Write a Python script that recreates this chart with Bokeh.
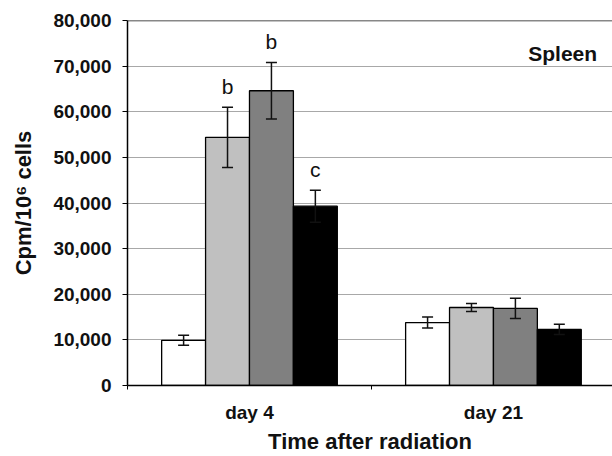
from bokeh.plotting import figure
from bokeh.models import (ColumnDataSource, Whisker, TeeHead, FixedTicker, NumeralTickFormatter,
                          Range1d, Label, Span)
from bokeh.core.properties import value
from bokeh.embed import file_html
from bokeh.resources import INLINE

# ---- data ----
groups = ["day 4", "day 21"]
group_pos = [0.5, 1.5]
series_names = ["control", "group 2", "group 3", "group 4"]
series_colors = ["#ffffff", "#c0c0c0", "#808080", "#000000"]
means_control = [9900, 13800]
err_control = [1100, 1200]
means_g2 = [54400, 17100]
err_g2 = [6600, 900]
means_g3 = [64600, 16900]
err_g3 = [6200, 2200]
means_g4 = [39300, 12300]
err_g4 = [3500, 1100]
letters_control = ["", ""]
letters_g2 = ["b", ""]
letters_g3 = ["b", ""]
letters_g4 = ["c", ""]
y_ticks = [0, 10000, 20000, 30000, 40000, 50000, 60000, 70000, 80000]

means = [means_control, means_g2, means_g3, means_g4]
errs = [err_control, err_g2, err_g3, err_g4]
letters = [letters_control, letters_g2, letters_g3, letters_g4]
offsets = [-0.27, -0.09, 0.09, 0.27]
bar_w = 0.18

FONT = "Liberation Sans"

p = figure(width=612, height=456, output_backend="svg", toolbar_location=None,
           x_range=Range1d(0, 1.988), y_range=Range1d(0, 80000),
           min_border_left=127, min_border_right=0, min_border_top=20, min_border_bottom=71)

p.outline_line_color = None
p.background_fill_color = "white"
p.border_fill_color = "white"

p.xgrid.grid_line_color = None
p.ygrid.grid_line_color = "#a8a8a8"
p.ygrid.grid_line_width = 1
p.ygrid.ticker = FixedTicker(ticks=y_ticks)

p.add_layout(Span(location=80000, dimension="width", line_color="#111111", line_width=1.5,
                  level="overlay"))

for m, e, lt, off, col in zip(means, errs, letters, offsets, series_colors):
    xs = [g + off for g in group_pos]
    src = ColumnDataSource(dict(x=xs, top=m, upper=[a + b for a, b in zip(m, e)],
                                lower=[a - b for a, b in zip(m, e)], lab=lt))
    p.vbar(x="x", top="top", width=bar_w, bottom=0, source=src, fill_color=col,
           line_color="#000000", line_width=1.3)
    p.add_layout(Whisker(base="x", upper="upper", lower="lower", source=src, level="overlay",
                         line_color="#111111", line_width=1.5,
                         upper_head=TeeHead(size=11, line_width=1.5, line_color="#111111"),
                         lower_head=TeeHead(size=11, line_width=1.5, line_color="#111111")))
    p.text(x="x", y="upper", text="lab", source=src, text_align="center",
           text_baseline="bottom", y_offset=-9, text_font=value(FONT),
           text_font_size="21px", text_color="#111111")

# y axis
p.yaxis.ticker = FixedTicker(ticks=y_ticks)
p.yaxis.formatter = NumeralTickFormatter(format="0,0")
p.yaxis.major_label_text_font = FONT
p.yaxis.major_label_text_font_style = "bold"
p.yaxis.major_label_text_font_size = "19px"
p.yaxis.major_label_text_color = "#111111"
p.yaxis.major_tick_in = 0
p.yaxis.major_tick_out = 5
p.yaxis.minor_tick_line_color = None
p.yaxis.axis_line_width = 1.5
p.yaxis.major_label_standoff = 11
p.yaxis.axis_label = "Cpm/10\u2076 cells"
p.yaxis.axis_label_text_font = FONT
p.yaxis.axis_label_text_font_style = "bold"
p.yaxis.axis_label_text_font_size = "22px"
p.yaxis.axis_label_text_color = "#111111"
p.yaxis.axis_label_standoff = 14

# x axis
p.xaxis.ticker = FixedTicker(ticks=group_pos, minor_ticks=[0, 1, 2])
p.xaxis.major_label_overrides = {g: n for g, n in zip(group_pos, groups)}
p.xaxis.major_tick_line_color = None
p.xaxis.minor_tick_in = 0
p.xaxis.minor_tick_out = 4
p.xaxis.axis_line_width = 1.5
p.xaxis.major_label_text_font = FONT
p.xaxis.major_label_text_font_style = "bold"
p.xaxis.major_label_text_font_size = "19px"
p.xaxis.major_label_text_color = "#111111"
p.xaxis.major_label_standoff = 10
p.xaxis.axis_label = "Time after radiation"
p.xaxis.axis_label_text_font = FONT
p.xaxis.axis_label_text_font_style = "bold"
p.xaxis.axis_label_text_font_size = "22px"
p.xaxis.axis_label_text_color = "#111111"
p.xaxis.axis_label_standoff = 3

p.add_layout(Label(x=1.925, y=72800, text="Spleen", text_align="right", text_baseline="middle",
                   text_font=FONT, text_font_style="bold", text_font_size="21px",
                   text_color="#111111"))

open("out.html", "w").write(file_html(p, INLINE))
